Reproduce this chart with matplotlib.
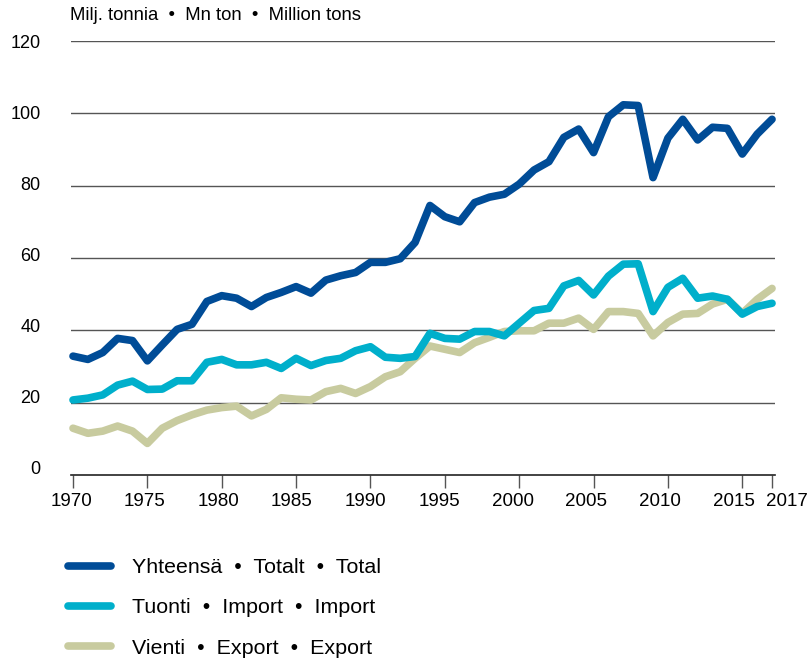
import matplotlib
matplotlib.use('Agg')
import matplotlib.pyplot as plt
from matplotlib.lines import Line2D
import matplotlib.transforms as mtransforms

plt.rcParams['font.family'] = ['Liberation Sans', 'DejaVu Sans']

years = list(range(1970, 2018))

total = [32.9, 32.0, 33.9, 37.8, 37.2, 31.6, 36.0, 40.3, 41.7, 48.0,
         49.6, 48.9, 46.6, 49.1, 50.5, 52.1, 50.3, 53.9, 55.1, 56.0,
         58.8, 58.8, 59.8, 64.3, 74.5, 71.4, 70.0, 75.3, 76.8, 77.6,
         80.4, 84.3, 86.6, 93.3, 95.6, 89.1, 99.0, 102.3, 102.1, 82.2,
         93.1, 98.3, 92.6, 96.1, 95.8, 88.7, 94.2, 98.3]

imports = [20.8, 21.3, 22.2, 24.9, 26.0, 23.7, 23.8, 26.1, 26.1, 31.2,
           32.0, 30.5, 30.5, 31.2, 29.5, 32.3, 30.3, 31.7, 32.3, 34.4,
           35.5, 32.6, 32.3, 32.8, 39.2, 37.8, 37.6, 39.7, 39.7, 38.5,
           42.0, 45.5, 46.1, 52.3, 53.8, 49.8, 55.0, 58.3, 58.4, 45.2,
           51.9, 54.4, 48.9, 49.5, 48.6, 44.5, 46.6, 47.5]

exports = [13.0, 11.6, 12.2, 13.6, 12.2, 8.8, 13.0, 15.1, 16.7, 18.0,
           18.7, 19.1, 16.4, 18.2, 21.4, 21.0, 20.8, 23.1, 24.0, 22.6,
           24.5, 27.2, 28.6, 32.3, 35.7, 34.8, 33.9, 36.6, 38.1, 39.7,
           39.9, 39.9, 42.0, 42.0, 43.4, 40.3, 45.2, 45.2, 44.7, 38.5,
           42.2, 44.5, 44.7, 47.3, 48.6, 44.7, 48.6, 51.6]

labels = ['Yhteensä  •  Totalt  •  Total',
          'Tuonti  •  Import  •  Import',
          'Vienti  •  Export  •  Export']
colors = ['#004C97', '#00AFCB', '#C8CB9F']

xticks = [1970, 1975, 1980, 1985, 1990, 1995, 2000, 2005, 2010, 2015, 2017]
yticks = [0, 20, 40, 60, 80, 100, 120]

fig = plt.figure(figsize=(8.09, 6.61), dpi=100)
ax = fig.add_axes([71 / 809, (661 - 475.3) / 661, 704 / 809, 434.6 / 661])

# export under import under total
for series, col in zip([exports, imports, total], colors[::-1]):
    ax.plot(years, series, color=col, lw=5.5, solid_capstyle='round',
            solid_joinstyle='round', clip_on=False)

ax.set_xlim(1969.865, 2017.2)
ax.set_ylim(0, 120)
for v in yticks[1:]:
    ax.axhline(v, color='#555555', lw=1.0, zorder=0)

for s in ['top', 'right', 'left']:
    ax.spines[s].set_visible(False)
ax.spines['bottom'].set_color('#222222')
ax.spines['bottom'].set_linewidth(1.2)

ax.set_xticks(xticks)
ax.set_xticklabels([str(t) for t in xticks], fontsize=13.5)
ax.tick_params(axis='x', direction='out', length=9.3, width=1, color='#555555', pad=3.8)
# labels sit a little left of their ticks, the last one pushed right
for t, lab in zip(xticks, ax.get_xticklabels()):
    dx = 15 if t == 2017 else (-2 - (t - 1970) * 0.15)
    lab.set_transform(lab.get_transform() +
                      mtransforms.ScaledTranslation(dx / 100, 0, fig.dpi_scale_trans))

ax.set_yticks(yticks)
ax.set_yticklabels([str(t) for t in yticks], fontsize=13)
ax.tick_params(axis='y', length=0, pad=22)
for v, lab in zip(yticks, ax.get_yticklabels()):
    dy = 7.3 - v / 120 * 7.6
    lab.set_transform(lab.get_transform() +
                      mtransforms.ScaledTranslation(0, dy / 100, fig.dpi_scale_trans))

fig.text(70 / 809, 1 - 16 / 661, 'Milj. tonnia  •  Mn ton  •  Million tons',
         fontsize=13.3, va='center', ha='left')

handles = [Line2D([0], [0], color=c, lw=5.5, solid_capstyle='round') for c in colors]
fig.legend(handles, labels, loc='upper left', bbox_to_anchor=(68 / 809, 1 - 558 / 661),
           frameon=False, fontsize=15.4, handlelength=2.0, handletextpad=1.0,
           labelspacing=1.0, borderpad=0, borderaxespad=0)

plt.savefig('out.png', dpi=100)
